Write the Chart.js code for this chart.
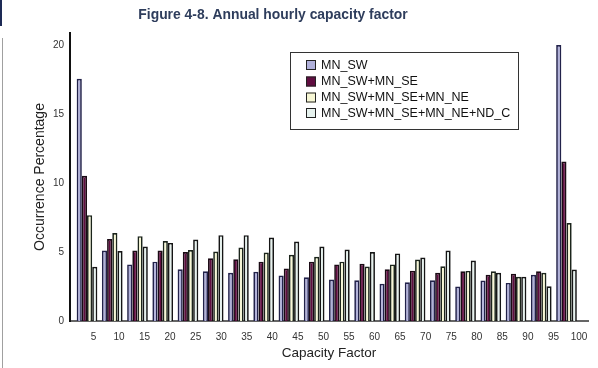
<!DOCTYPE html>
<html>
<head>
<meta charset="utf-8">
<script src="https://cdn.jsdelivr.net/npm/chart.js@4/dist/chart.umd.min.js"></script>
<style>
  html, body { margin: 0; padding: 0; background: #ffffff; }
  #wrap { position: relative; width: 598px; height: 368px; }
  #c { position: absolute; left: 0; top: 0; }
  .deco1 { position: absolute; left: 0; top: 0; width: 2px; height: 26px; background: #1d2a55; }
  .deco2 { position: absolute; left: 2px; top: 38px; width: 1px; height: 330px; background: #a0a0a0; }
</style>
</head>
<body>
<div id="wrap">
  <canvas id="c" width="598" height="368"></canvas>
  <div class="deco1"></div>
  <div class="deco2"></div>
</div>
<script>
// ---- data ----
const chartTitle = "Figure 4-8. Annual hourly capacity factor";
const xTitle = "Capacity Factor";
const yTitle = "Occurrence Percentage";
const categories = [5, 10, 15, 20, 25, 30, 35, 40, 45, 50, 55, 60, 65, 70, 75, 80, 85, 90, 95, 100];
const seriesNames = ["MN_SW", "MN_SW+MN_SE", "MN_SW+MN_SE+MN_NE", "MN_SW+MN_SE+MN_NE+ND_C"];
const mnSW       = [17.55, 5.1, 4.1, 4.3, 3.75, 3.6, 3.5, 3.56, 3.3, 3.17, 3.0, 2.95, 2.7, 2.8, 2.95, 2.5, 2.93, 2.76, 3.35, 20.0];
const mnSWSE     = [10.53, 5.94, 5.1, 5.1, 5.0, 4.55, 4.48, 4.3, 3.8, 4.3, 4.1, 4.15, 3.75, 3.65, 3.5, 3.6, 3.35, 3.43, 3.6, 11.55];
const mnSWSENE   = [7.67, 6.38, 6.15, 5.8, 5.15, 5.03, 5.33, 4.96, 4.8, 4.65, 4.3, 3.95, 4.1, 4.45, 3.97, 3.63, 3.6, 3.2, 3.5, 7.1];
const mnSWSENEND = [3.93, 5.07, 5.4, 5.66, 5.9, 6.22, 6.22, 6.05, 5.76, 5.4, 5.18, 5.0, 4.9, 4.6, 5.1, 4.38, 3.5, 3.2, 2.52, 3.73];
const yTicks = [0, 5, 10, 15, 20];

// ---- styles ----
const FONT = "'Liberation Sans', Arial, Helvetica, sans-serif";
const fills = ['#b0b0da', '#600d40', '#f7f7d4', '#e6f2ee'];
const borders = ['#22224a', '#1a0a14', '#1b241b', '#151515'];
const allSeries = [mnSW, mnSWSE, mnSWSENE, mnSWSENEND];

const datasets = allSeries.map((vals, i) => ({
  label: seriesNames[i],
  data: categories.map((c, j) => ({ x: c, y: vals[j] })),
  backgroundColor: fills[i],
  borderColor: borders[i],
  borderWidth: 1.7,
  borderSkipped: 'bottom',
  categoryPercentage: 0.82,
  barPercentage: 1.0
}));

const overlay = {
  id: 'overlay',
  afterDraw(chart) {
    const ctx = chart.ctx;
    ctx.save();
    // title
    ctx.fillStyle = '#2e3d5c';
    ctx.font = "bold 13.9px " + FONT;
    ctx.textAlign = 'center';
    ctx.textBaseline = 'middle';
    ctx.fillText(chartTitle, 273, 15);
    // legend
    const bx = 290.5, by = 52.5, bw = 228, bh = 77;
    ctx.fillStyle = '#ffffff';
    ctx.fillRect(bx, by, bw, bh);
    ctx.strokeStyle = '#333333';
    ctx.lineWidth = 1;
    ctx.strokeRect(bx, by, bw, bh);
    const rows = [65, 81.5, 97.5, 113];
    ctx.font = "12.5px " + FONT;
    ctx.textAlign = 'left';
    chart.data.datasets.forEach((ds, i) => {
      const y = rows[i];
      ctx.fillStyle = ds.backgroundColor;
      ctx.fillRect(306, y - 5, 10, 10);
      ctx.strokeStyle = '#222222';
      ctx.strokeRect(306.5, y - 4.5, 9, 9);
      ctx.fillStyle = '#111111';
      ctx.fillText(ds.label, 321, y + 0.5);
    });
    ctx.restore();
  }
};

new Chart(document.getElementById('c'), {
  type: 'bar',
  data: { datasets },
  options: {
    responsive: false,
    animation: false,
    devicePixelRatio: 1,
    layout: { padding: { left: 0, right: 10, top: 33, bottom: 0 } },
    plugins: { legend: { display: false }, title: { display: false }, tooltip: { enabled: false } },
    scales: {
      x: {
        type: 'linear',
        display: false,
        offset: false,
        min: 1.63,
        max: 104.26
      },
      xLabels: {
        type: 'linear',
        position: 'bottom',
        axis: 'x',
        offset: false,
        min: 0.41,
        max: 101.76,
        afterFit: s => { s.height = 47; },
        afterBuildTicks: s => { s.ticks = categories.map(v => ({ value: v })); },
        grid: { display: false, drawTicks: false },
        border: { display: true, color: '#666666', width: 2 },
        ticks: {
          font: { family: FONT, size: 10 },
          color: '#333333',
          padding: 10,
          maxRotation: 0,
          autoSkip: false
        },
        title: {
          display: true,
          text: xTitle,
          font: { family: FONT, size: 13.5 },
          color: '#222222',
          padding: { top: 0, bottom: 7 }
        }
      },
      y: {
        min: 0,
        max: 20.87,
        afterFit: s => { s.width = 70; },
        afterBuildTicks: s => { s.ticks = yTicks.map(v => ({ value: v })); },
        grid: { display: false, drawTicks: false },
        border: { display: true, color: '#111111', width: 2 },
        ticks: {
          font: { family: FONT, size: 10 },
          color: '#333333',
          padding: 6
        },
        title: {
          display: true,
          text: yTitle,
          font: { family: FONT, size: 14 },
          color: '#222222',
          padding: { top: 32, bottom: 0 }
        }
      }
    }
  },
  plugins: [overlay]
});
</script>
</body>
</html>
